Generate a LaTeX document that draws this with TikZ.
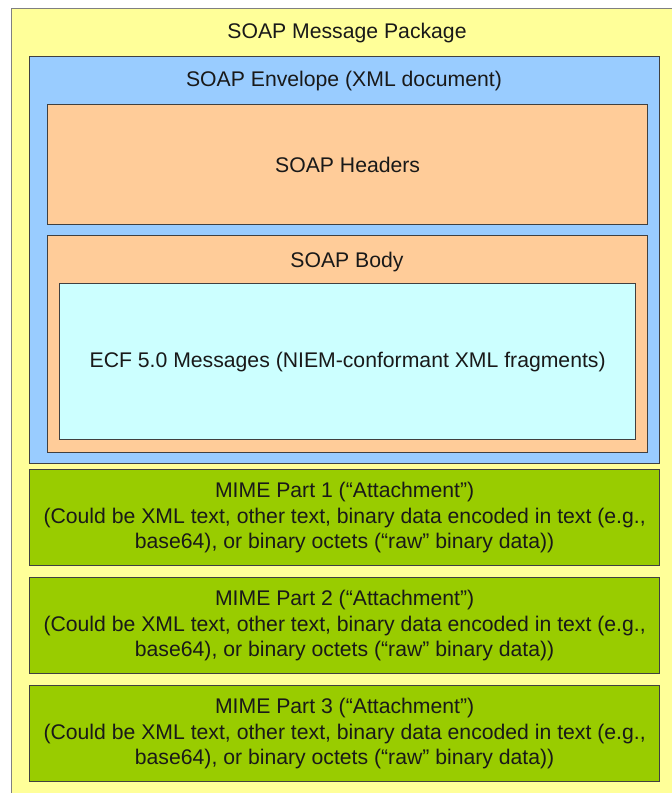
\documentclass[tikz,border=0pt]{standalone}
\usepackage{fontspec}
\setmainfont{Liberation Sans}
\usepackage{tikz}
\usetikzlibrary{positioning}

\definecolor{pkgyellow}{HTML}{FFFF99}
\definecolor{envblue}{HTML}{99CCFF}
\definecolor{partorange}{HTML}{FFCC99}
\definecolor{ecfcyan}{HTML}{CCFFFF}
\definecolor{mimegreen}{HTML}{99CC00}

\begin{document}
\begin{tikzpicture}[x=1pt, y=-1pt,
		every node/.style={font=\fontsize{21.2}{25.5}\selectfont, text=black!90},
		box/.style={draw=black!75, line width=1.3pt, inner sep=0pt, align=center, anchor=north west},
		mimebox/.style={box, fill=mimegreen, minimum width=630pt, minimum height=96pt},
	]
		\useasboundingbox (0,0) rectangle (672,793);
		\clip (0,0) rectangle (672,793);
		% 外层与信封
		\node (pkg) [box, draw=black!50, fill=pkgyellow, minimum width=680pt, minimum height=800pt] at (11,8) {};
		\node (env) [box, fill=envblue, minimum width=630pt, minimum height=407pt] at (29,56) {};
		\node (hdr) [box, fill=partorange, minimum width=600pt, minimum height=120pt] at (47,104) {SOAP Headers};
		\node (body) [box, fill=partorange, minimum width=600pt, minimum height=217pt] at (47,235) {};
		\node (ecf) [box, fill=ecfcyan, minimum width=576pt, minimum height=156pt] at (59,283) {ECF 5.0 Messages (NIEM-conformant XML fragments)};
		% 标题
		\node (pkgtitle) [anchor=base] at (347,38) {SOAP Message Package};
		\node (envtitle) [anchor=base] at (344,86) {SOAP Envelope (XML document)};
		\node (bodytitle) [anchor=base] at (347,267) {SOAP Body};
		% MIME 部分
		\foreach \i/\y in {1/469, 2/577, 3/685}
			\node (mime\i) [mimebox] at (29,\y) {MIME Part \i\ (“Attachment”)\\(Could be XML text, other text, binary data encoded in text (e.g.,\\base64), or binary octets (“raw” binary data))};
	\end{tikzpicture}
\end{document}
